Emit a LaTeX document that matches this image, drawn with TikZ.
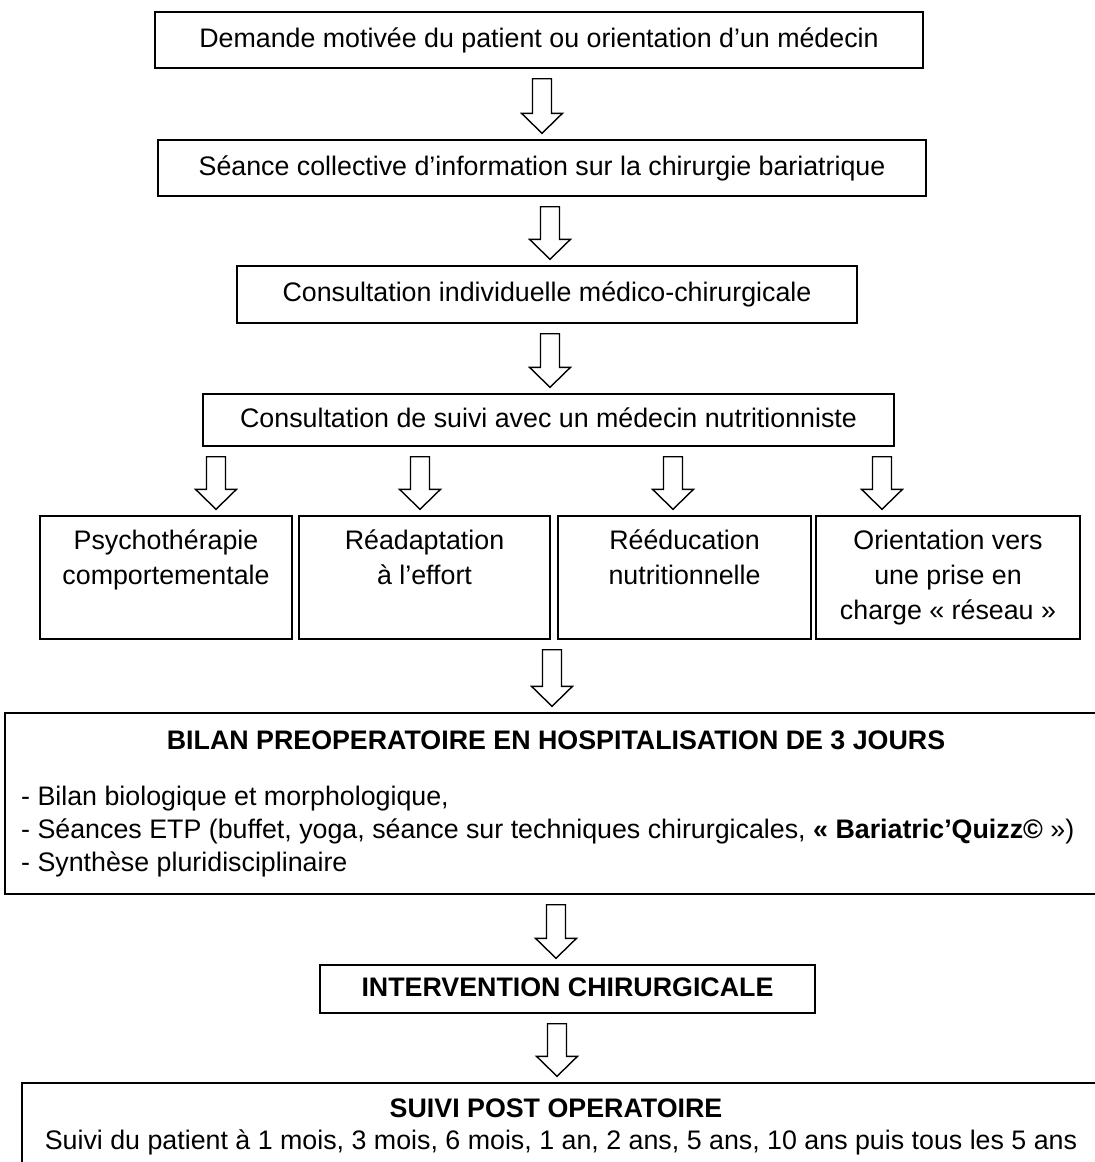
\documentclass[tikz,border=0pt]{standalone}
\usepackage{fontspec}
\setmainfont{Liberation Sans}
\usetikzlibrary{calc}

\newcommand{\police}{\fontsize{26.8}{35}\selectfont}
\newcommand{\policeliste}{\fontsize{26.8}{33}\selectfont}

% fleche creuse verticale, #1 = abscisse, #2 = depart, #3 = arrivee
\newcommand{\flechevide}[3]{%
  \draw[fleche] let \p1=(#2.south), \p2=(#3.north) in
    (#1-9.5,\y1-10) -- (#1+9.5,\y1-10) -- (#1+9.5,\y2+26)
    -- (#1+20.5,\y2+26) -- (#1,\y2+6) -- (#1-20.5,\y2+26)
    -- (#1-9.5,\y2+26) -- cycle;}

\begin{document}
\begin{tikzpicture}[x=1pt, y=1pt,
    boite/.style={draw, line width=1.4pt, inner sep=0pt, font=\police, align=center},
    ligne/.style={boite, text height=24.5pt, text depth=10.5pt},
    bloc/.style={boite},
    titre/.style={inner sep=0pt, font=\police\bfseries},
    texte/.style={inner sep=0pt, font=\police},
    liste/.style={inner sep=0pt, font=\policeliste, align=left},
    fleche/.style={draw, line width=1.4pt, line join=miter, fill=white},
  ]
    \useasboundingbox (0,0) rectangle (1095,-1162);
    \clip (0,0) rectangle (1095,-1162);

    % etapes du parcours
    \node[ligne, minimum width=768, minimum height=56] (demande) at (539,-40)
      {Demande motivée du patient ou orientation d’un médecin};
    \node[ligne, minimum width=768, minimum height=56] (seance) at (542,-168)
      {Séance collective d’information sur la chirurgie bariatrique};
    \node[ligne, minimum width=620, minimum height=57] (consult) at (547,-294.5)
      {Consultation individuelle médico-chirurgicale};
    \node[ligne, minimum width=691, minimum height=52] (suivi) at (548.5,-420)
      {Consultation de suivi avec un médecin nutritionniste};

    % prises en charge paralleles
    \node[bloc, minimum width=252, minimum height=123] (psycho) at (166,-577.5)
      {\strut Psychothérapie\\\strut comportementale\\\strut};
    \node[bloc, minimum width=251, minimum height=123] (readapt) at (424.5,-577.5)
      {\strut Réadaptation\\\strut à l’effort\\\strut};
    \node[bloc, minimum width=253, minimum height=123] (reeduc) at (684.5,-577.5)
      {\strut Rééducation\\\strut nutritionnelle\\\strut};
    \node[bloc, minimum width=264, minimum height=123] (reseau) at (948,-577.5)
      {\strut Orientation vers\\\strut une prise en\\\strut charge « réseau »};

    % bilan preoperatoire
    \node[boite, minimum width=1100, minimum height=181] (bilan) at (555,-803.5) {};
    \node[titre, anchor=base] (bilantitre) at ([xshift=1pt, yshift=-37pt]bilan.north)
      {BILAN PREOPERATOIRE EN HOSPITALISATION DE 3 JOURS};
    \node[liste, anchor=north west] (bilanliste) at (21,-781.9)
      {\strut - Bilan biologique et morphologique,\\
       \strut - Séances ETP (buffet, yoga, séance sur techniques chirurgicales, \textbf{« Bariatric’Quizz©} »)\\
       \strut - Synthèse pluridisciplinaire};

    \node[ligne, font=\police\bfseries, minimum width=495, minimum height=48] (interv) at (567.5,-989)
      {INTERVENTION CHIRURGICALE};

    % suivi post operatoire
    \node[boite, minimum width=1088, minimum height=107] (postop) at (566,-1136.5) {};
    \node[titre, anchor=base] (postoptitre) at ([xshift=-10pt, yshift=-35pt]postop.north)
      {SUIVI POST OPERATOIRE};
    \node[texte, anchor=base] (postoptexte) at ([xshift=-5pt, yshift=-67pt]postop.north)
      {Suivi du patient à 1 mois, 3 mois, 6 mois, 1 an, 2 ans, 5 ans, 10 ans puis tous les 5 ans};

    % fleches
    \flechevide{542}{demande}{seance}
    \flechevide{550}{seance}{consult}
    \flechevide{550}{consult}{suivi}
    \flechevide{216}{suivi}{psycho}
    \flechevide{420}{suivi}{readapt}
    \flechevide{673}{suivi}{reeduc}
    \flechevide{882}{suivi}{reseau}
    \flechevide{552}{reeduc}{bilan}
    \flechevide{556}{bilan}{interv}
    \flechevide{557}{interv}{postop}
\end{tikzpicture}
\end{document}
